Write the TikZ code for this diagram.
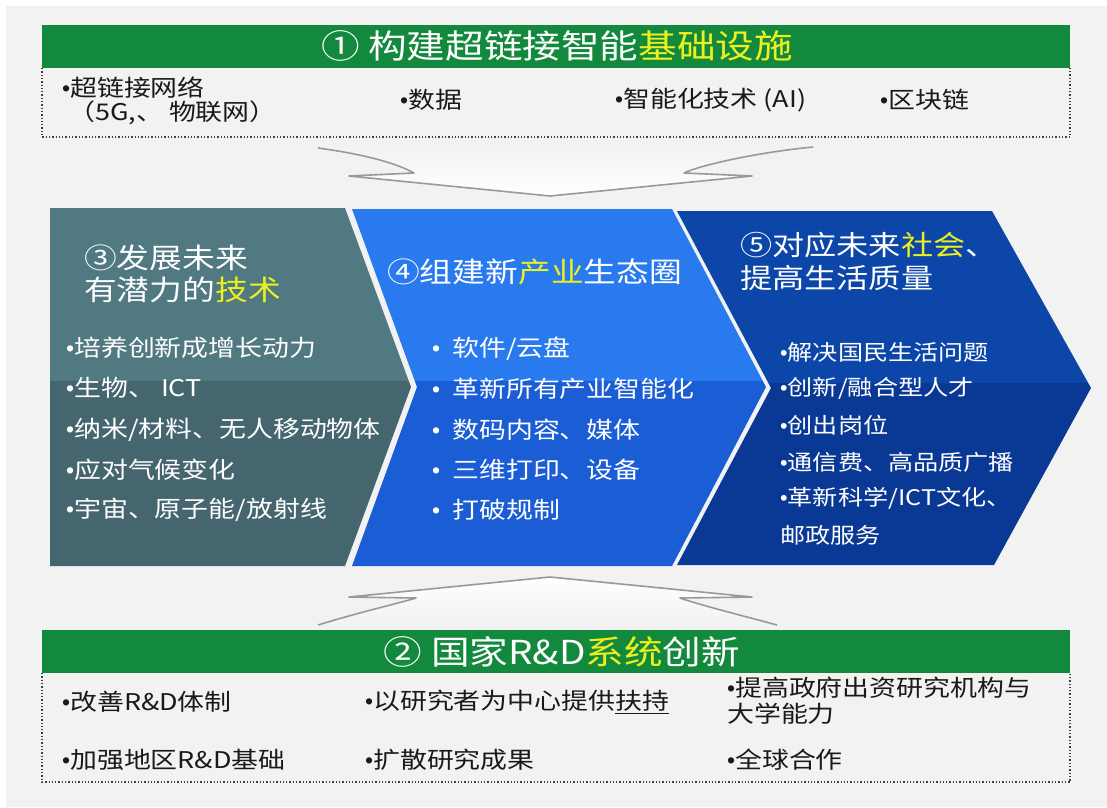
\documentclass[tikz,border=0pt]{standalone}
\usepackage{fontspec}
\setmainfont[FakeStretch=1.17]{Noto Sans CJK SC}
\newfontfamily\bulfont{Liberation Sans}
\newcommand{\mybul}{{\bulfont •}}
\definecolor{grn}{RGB}{18,137,60}
\definecolor{ylw}{RGB}{235,240,30}
\definecolor{bg}{RGB}{242,242,242}
\definecolor{pAt}{RGB}{80,121,130}
\definecolor{pAb}{RGB}{69,102,111}
\definecolor{pBt}{RGB}{40,122,238}
\definecolor{pBb}{RGB}{27,93,212}
\definecolor{pCt}{RGB}{12,70,168}
\definecolor{pCb}{RGB}{9,57,148}
\definecolor{txt}{RGB}{25,25,25}
\tikzset{
  itemw/.style={anchor=west, inner sep=0pt, text=white, font=\fontsize{23}{27}\selectfont},
  itemk/.style={anchor=west, inner sep=0pt, text=txt, font=\fontsize{23}{27}\selectfont},
  headw/.style={anchor=west, inner sep=0pt, text=white, font=\fontsize{28}{32}\selectfont},
  bartitle/.style={inner sep=0pt, text=white, font=\fontsize{33}{37}\selectfont},
  dotbox/.style={draw=black!75, dotted, line width=1.3pt},
  arrowout/.style={draw=black!40, line width=1.6pt, line join=round},
}
\begin{document}
\begin{tikzpicture}[x=1pt,y=-1pt]
\useasboundingbox (0,0) rectangle (1107,807);
\fill[white] (0,0) rectangle (1107,807);
\fill[bg] (6,6) rectangle (1107,807);

% ---------- top bar ----------
\fill[grn] (42,25) rectangle (1070,68);
\draw[dotbox] (42,68) -- (42,137) -- (1070,137) -- (1070,68);
\node[bartitle] (t1) at (557,46) {① 构建超链接智能{\color{ylw}基础设施}};
\node[itemk] (a1) at (62,88) {\mybul 超链接网络};
\node[itemk] (a2) at (68,113) {（5G,、 物联网）};
\node[itemk] (a3) at (400,100) {\mybul 数据};
\node[itemk] (a4) at (615,100) {\mybul 智能化技术 (AI)};
\node[itemk] (a5) at (880,100) {\mybul 区块链};

% ---------- top arrow ----------
\shade[top color=bg, bottom color=white]
  (318,148) .. controls (370,155) and (400,165) .. (414,173) -- (349,176) -- (550,196)
  -- (752,176) -- (684,173) .. controls (700,165) and (760,152) .. (813,147) -- cycle;
\draw[arrowout] (318,148) .. controls (370,155) and (400,165) .. (414,173) -- (349,176) -- (550,196)
  -- (752,176) -- (684,173) .. controls (700,165) and (760,152) .. (813,147);

% ---------- panels ----------
\begin{scope}
\clip (50,208) -- (345,208) -- (411,387) -- (345,566) -- (50,566) -- cycle;
\fill[pAt] (40,200) rectangle (420,381);
\fill[pAb] (40,381) rectangle (420,570);
\end{scope}
\begin{scope}
\clip (352,209) -- (672,209) -- (766,387) -- (672,566) -- (352,566) -- (417,387) -- cycle;
\fill[pBt] (340,200) rectangle (780,381);
\fill[pBb] (340,381) rectangle (780,570);
\end{scope}
\begin{scope}
\clip (677,211) -- (992,211) -- (1091,388) -- (994,565) -- (677,565) -- (771,388) -- cycle;
\fill[pCt] (670,200) rectangle (1100,383);
\fill[pCb] (670,383) rectangle (1100,570);
\end{scope}

% panel 1 text
\node[headw] (h1a) at (84,258) {③发展未来};
\node[headw] (h1b) at (84,290) {有潜力的{\color{ylw}技术}};
\node[itemw] (b1) at (66,348) {\mybul 培养创新成增长动力};
\node[itemw] (b2) at (66,388) {\mybul 生物、 ICT};
\node[itemw] (b3) at (66,430) {\mybul 纳米/材料、无人移动物体};
\node[itemw] (b4) at (66,470) {\mybul 应对气候变化};
\node[itemw] (b5) at (66,510) {\mybul 宇宙、原子能/放射线};

% panel 2 text
\node[headw] (h2) at (387,272) {④组建新{\color{ylw}产业}生态圈};
\node[itemw] (c1) at (432,349) {\mybul\ \ 软件/云盘};
\node[itemw] (c2) at (432,389) {\mybul\ \ 革新所有产业智能化};
\node[itemw] (c3) at (432,430) {\mybul\ \ 数码内容、媒体};
\node[itemw] (c4) at (432,470) {\mybul\ \ 三维打印、设备};
\node[itemw] (c5) at (432,510) {\mybul\ \ 打破规制};

% panel 3 text
\node[headw, font=\fontsize{27.5}{32}\selectfont] (h3a) at (740,245) {⑤对应未来{\color{ylw}社会}、};
\node[headw, font=\fontsize{27.5}{32}\selectfont] (h3b) at (740,278) {提高生活质量};
\node[itemw, font=\fontsize{21.5}{25}\selectfont] (d1) at (780,352) {\mybul 解决国民生活问题};
\node[itemw, font=\fontsize{21.5}{25}\selectfont] (d2) at (780,388) {\mybul 创新/融合型人才};
\node[itemw, font=\fontsize{21.5}{25}\selectfont] (d3) at (780,425) {\mybul 创出岗位};
\node[itemw, font=\fontsize{21.5}{25}\selectfont] (d4) at (780,462) {\mybul 通信费、高品质广播};
\node[itemw, font=\fontsize{21.5}{25}\selectfont] (d5) at (780,498) {\mybul 革新科学/ICT文化、};
\node[itemw, font=\fontsize{21.5}{25}\selectfont] (d6) at (780,535) {邮政服务};

% ---------- bottom arrow ----------
\shade[top color=white, bottom color=bg]
  (318,625) .. controls (360,612) and (400,603) .. (416,598) -- (349,597) -- (550,577)
  -- (752,597) -- (680,598) .. controls (700,605) and (740,615) .. (777,625) -- cycle;
\draw[arrowout] (318,625) .. controls (360,612) and (400,603) .. (416,598) -- (349,597) -- (550,577)
  -- (752,597) -- (680,598) .. controls (700,605) and (740,615) .. (777,625);

% ---------- bottom bar ----------
\fill[grn] (42,630) rectangle (1070,673);
\draw[dotbox] (42,673) -- (42,782) -- (1070,782) -- (1070,673);
\node[bartitle] (t2) at (562,652) {② 国家R\&D{\color{ylw}系统}创新};
\node[itemk] (e1) at (62,702) {\mybul 改善R\&D体制};
\node[itemk] (e2) at (365,702) {\mybul 以研究者为中心提供\underline{扶持}};
\node[itemk] (e3) at (727,688) {\mybul 提高政府出资研究机构与};
\node[itemk] (e4) at (727,714) {大学能力};
\node[itemk] (e5) at (62,760) {\mybul 加强地区R\&D基础};
\node[itemk] (e6) at (365,760) {\mybul 扩散研究成果};
\node[itemk] (e7) at (727,760) {\mybul 全球合作};
\end{tikzpicture}
\end{document}
